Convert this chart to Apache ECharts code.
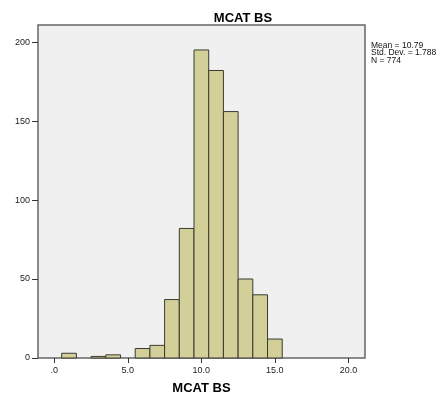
<!DOCTYPE html>
<html>
<head>
<meta charset="utf-8">
<script src="https://cdn.jsdelivr.net/npm/echarts@6/dist/echarts.min.js"></script>
<style>
html,body{margin:0;padding:0;background:#fff;}
#c{width:445px;height:400px;}
</style>
</head>
<body>
<div id="c"></div>
<script>
// Data (bin width 1.0)
const binCenters = [1, 3, 4, 6, 7, 8, 9, 10, 11, 12, 13, 14, 15];
const counts     = [3, 1, 2, 6, 8, 37, 82, 195, 182, 156, 50, 40, 12];
const xTickValues = [0, 5, 10, 15, 20];
const xTickLabels = ['.0', '5.0', '10.0', '15.0', '20.0'];
const yTickValues = [0, 50, 100, 150, 200];
const statsLines = ['Mean = 10.79', 'Std. Dev. = 1.788', 'N = 774'];
const titleText = 'MCAT BS';
const xAxisName = 'MCAT BS';
const binWidth = 1;

const chart = echarts.init(document.getElementById('c'), null, {renderer: 'canvas'});
const data = binCenters.map((c, i) => [c, counts[i]]);
const font = '"Liberation Sans", Arial, sans-serif';

chart.setOption({
  animation: false,
  backgroundColor: '#ffffff',
  title: {
    text: titleText,
    left: 238, top: 7, textAlign: 'center',
    textStyle: {fontFamily: font, fontWeight: 'bold', fontSize: 13, color: '#000'}
  },
  grid: {left: 38, top: 25, width: 327, height: 333, show: true,
         backgroundColor: '#f0f0f0', borderColor: '#666666', borderWidth: 1.5},
  xAxis: {
    type: 'value', min: -1.11, max: 21.13,
    name: xAxisName, nameLocation: 'middle', nameGap: 24,
    nameTextStyle: {fontFamily: font, fontWeight: 'bold', fontSize: 13, color: '#000'},
    axisLine: {show: false, onZero: false},
    splitLine: {show: false},
    axisTick: {show: true, length: 5, inside: false, customValues: xTickValues, lineStyle: {color: '#333'}},
    axisLabel: {customValues: xTickValues, margin: 8, fontFamily: font, fontSize: 9, color: '#222',
      formatter: v => xTickLabels[xTickValues.indexOf(v)] ?? ''}
  },
  yAxis: {
    type: 'value', min: 0, max: 210.8,
    axisLine: {show: false, onZero: false},
    splitLine: {show: false},
    axisTick: {show: true, length: 6, customValues: yTickValues, lineStyle: {color: '#333'}},
    axisLabel: {customValues: yTickValues, margin: 8, fontFamily: font, fontSize: 9, color: '#222'}
  },
  graphic: [{
    type: 'text', left: 371, top: 41,
    style: {text: statsLines.join('\n'), font: '8.5px ' + font, fill: '#111', lineHeight: 7.6}
  }],
  series: [{
    type: 'custom',
    data: data,
    renderItem: function (params, api) {
      const x = api.value(0), y = api.value(1);
      const p1 = api.coord([x - binWidth / 2, y]);
      const p2 = api.coord([x + binWidth / 2, 0]);
      return {
        type: 'rect',
        shape: {x: p1[0], y: p1[1], width: p2[0] - p1[0], height: p2[1] - p1[1]},
        style: {fill: '#d3cf99', stroke: '#3a3a30', lineWidth: 1}
      };
    },
    encode: {x: 0, y: 1}
  }]
});
</script>
</body>
</html>
